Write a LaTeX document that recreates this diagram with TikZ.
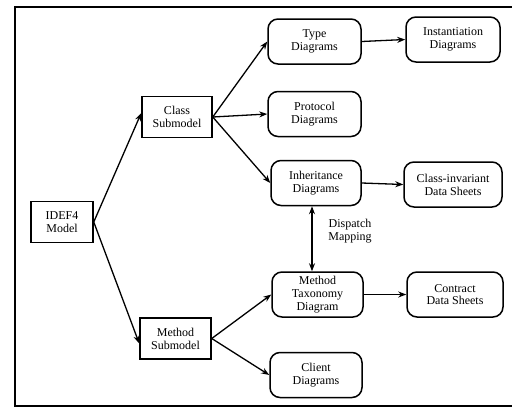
\documentclass[tikz,border=0pt]{standalone}
\usepackage{fontspec}
\setmainfont{Liberation Serif}
\usetikzlibrary{arrows.meta}
\begin{document}
\begin{tikzpicture}[x=1pt,y=-1pt,
  every node/.style={font=\fontsize{12}{12.8}\selectfont, align=center, inner sep=0pt},
  sqbox/.style={draw, line width=1.5pt, minimum height=41pt},
  rbox/.style={draw, line width=1.5pt, rounded corners=10pt, minimum height=45pt},
  conn/.style={line width=1.3pt, -{Stealth[length=8pt,width=6pt]}},
  conn2/.style={line width=1.3pt, {Stealth[length=8pt,width=6pt]}-{Stealth[length=8pt,width=6pt]}}]
  \useasboundingbox (0,0) rectangle (512,408);
  % outer frame
  \draw[line width=2pt] (516,7) -- (15,7) -- (15,406) -- (516,406);

  % submodels
  \node[sqbox, minimum width=62pt] (idef) at (62,222) {IDEF4\\Model};
  \node[sqbox, minimum width=70pt] (cls) at (177,117) {Class\\Submodel};
  \node[sqbox, minimum width=71pt] (mth) at (175.5,338.5) {Method\\Submodel};

  % diagram boxes
  \node[rbox, minimum width=93pt] (type) at (314.5,41.5) {Type\\Diagrams};
  \node[rbox, minimum width=93pt] (prot) at (314.5,114) {Protocol\\Diagrams};
  \node[rbox, minimum width=90pt] (inh) at (316,183) {Inheritance\\Diagrams};
  \node[rbox, minimum width=91pt] (tax) at (317.5,294.5) {Method\\Taxonomy\\Diagram};
  \node[rbox, minimum width=92pt] (cli) at (316,375) {Client\\Diagrams};
  \node[rbox, minimum width=94pt] (inst) at (453,39.5) {Instantiation\\Diagrams};
  \node[rbox, minimum width=98pt] (civ) at (453,184.5) {Class-invariant\\Data Sheets};
  \node[rbox, minimum width=96pt] (con) at (455,294.5) {Contract\\Data Sheets};

  \node (disp) at (350,231) {Dispatch\\Mapping};

  % connectors
  \draw[conn] (idef.east) -- ([yshift=4pt]cls.west);
  \draw[conn] (idef.east) -- ([yshift=-5pt]mth.west);
  \draw[conn] (cls.east) -- (type.west);
  \draw[conn] (cls.east) -- (prot.west);
  \draw[conn] (cls.east) -- (inh.west);
  \draw[conn] (mth.east) -- (tax.west);
  \draw[conn] (mth.east) -- (cli.west);
  \draw[conn] (type.east) -- (inst.west);
  \draw[conn] (inh.east) -- (civ.west);
  \draw[conn] (tax.east) -- (con.west);
  \draw[conn2] ([xshift=-4pt]inh.south) -- ([xshift=-5.5pt]tax.north);
\end{tikzpicture}
\end{document}
